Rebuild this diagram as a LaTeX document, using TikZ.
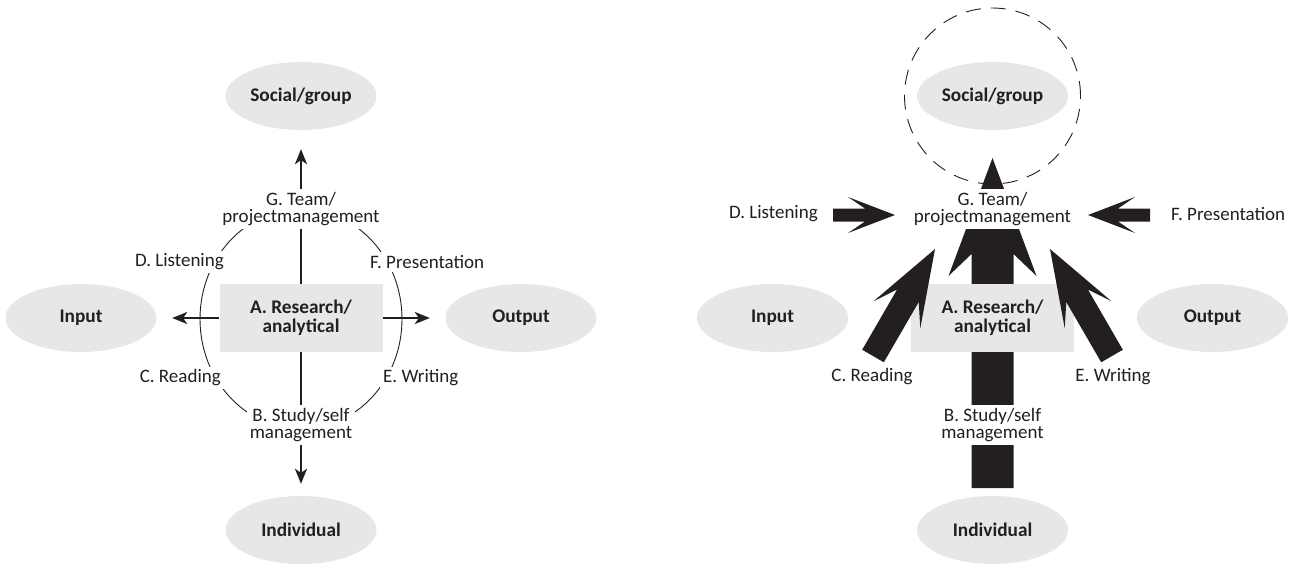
\documentclass[tikz,border=0pt]{standalone}
\usepackage{fontspec}
\setmainfont{Carlito}
\usetikzlibrary{shapes.geometric,arrows.meta,calc}
\definecolor{ink}{HTML}{231F20}
\definecolor{pale}{HTML}{E6E7E8}

% Filled block arrow: #1 tail, #2 tip, #3 shaft half-width,
% #4 head half-width, #5 head length, #6 distance tip -> shaft junction
\newcommand{\drawblockarrow}[6]{%
  \path ($(#2)!#5!(#1)$) coordinate (bab)
        ($(#2)!#6!(#1)$) coordinate (ban);
  \fill[blockfill]
    ($(#1)!#3!90:(#2)$) -- ($(ban)!#3!90:(#2)$) -- ($(bab)!#4!90:(#2)$) -- (#2)
    -- ($(bab)!#4!-90:(#2)$) -- ($(ban)!#3!-90:(#2)$) -- ($(#1)!#3!-90:(#2)$) -- cycle;
}

\begin{document}
\begin{tikzpicture}[x=1pt,y=-1pt,
  font=\fontsize{19}{17.5}\selectfont, text=ink,
  pole/.style={ellipse, fill=pale, minimum width=151pt, minimum height=68pt,
    inner sep=0pt, font=\fontsize{19.3}{17.5}\selectfont\bfseries},
  core/.style={rectangle, fill=pale, minimum width=163pt, minimum height=68pt,
    inner sep=0pt, align=center, font=\fontsize{19.3}{19}\selectfont\bfseries},
  masked/.style={inner sep=3pt, align=center, fill=white},
  link/.style={draw=ink, line width=1.8pt, -{Stealth[length=15pt,width=12pt,inset=4pt]}},
  ring/.style={draw=ink, line width=0.9pt},
  blockfill/.style={fill=ink},
  halo/.style={draw=ink, line width=0.9pt, dash pattern=on 15pt off 10pt},
]
\useasboundingbox (0,0) rectangle (1296,563);

% ---------- left: skill compass ----------
\node[pole] (sgL)  at (301,96)  {Social/group};
\node[pole] (inL)  at (81,318)  {Input};
\node[pole] (outL) at (521,318) {Output};
\node[pole] (indL) at (301,530) {Individual};

\draw[ring] (301,319) ellipse [x radius=101pt, y radius=110pt];

\node[core] (resL) at (301,318) {A. Research/\\analytical};

\draw[link, shorten >=19pt]   (resL.north) -- (sgL.south);
\draw[link, shorten >=12pt]   (resL.south) -- (indL.north);
\draw[link, shorten >=15.5pt] (resL.west)  -- (inL.east);
\draw[link, shorten >=15.5pt] (resL.east)  -- (outL.west);

\node[masked] (gL) at (301,209) {G. Team/\\projectmanagement};
\node[masked] (bL) at (301,425) {B. Study/self\\management};
\node[masked, anchor=east] (dL) at (227,262) {D. Listening};
\node[masked, anchor=west] (fL) at (367,262) {F. Presentation};
\node[masked, anchor=east] (cL) at (224,378) {C. Reading};
\node[masked, anchor=west] (eL) at (380,378) {E. Writing};

% ---------- right: skills converging on group work ----------
\draw[halo] (992.5,96) circle [radius=88pt];
\node[pole] (sgR)  at (992.5,96)  {Social/group};
\node[pole] (inR)  at (772.5,318) {Input};
\node[pole] (outR) at (1212.5,318) {Output};
\node[pole] (indR) at (992.5,530) {Individual};

\coordinate (midTail) at (992.5,488);
\coordinate (midTip)  at (992.5,158);
\drawblockarrow{midTail}{midTip}{21pt}{44pt}{118pt}{96pt}

\node[core] (resR) at (992.5,318) {A. Research/\\analytical};

\coordinate (rdTail) at (873,356);
\coordinate (rdTip)  at (935,249);
\drawblockarrow{rdTail}{rdTip}{12.5pt}{27pt}{76pt}{54pt}
\coordinate (wrTail) at (1112,356);
\coordinate (wrTip)  at (1050,249);
\drawblockarrow{wrTail}{wrTip}{12.5pt}{27pt}{76pt}{54pt}
\coordinate (lsTail) at (833,215);
\coordinate (lsTip)  at (895,215);
\drawblockarrow{lsTail}{lsTip}{6.5pt}{18pt}{47pt}{30pt}
\coordinate (prTail) at (1150,215);
\coordinate (prTip)  at (1088,215);
\drawblockarrow{prTail}{prTip}{6.5pt}{18pt}{47pt}{30pt}

\node[masked] (gR) at (992.5,209) {G. Team/\\projectmanagement};
\node[masked] (bR) at (992.5,425) {B. Study/self\\management};
\node[masked, anchor=east] (dR) at (821,214) {D. Listening};
\node[masked, anchor=west] (fR) at (1168,214) {F. Presentation};
\node[masked] (cR) at (872,377) {C. Reading};
\node[masked] (eR) at (1113,377) {E. Writing};
\end{tikzpicture}
\end{document}
